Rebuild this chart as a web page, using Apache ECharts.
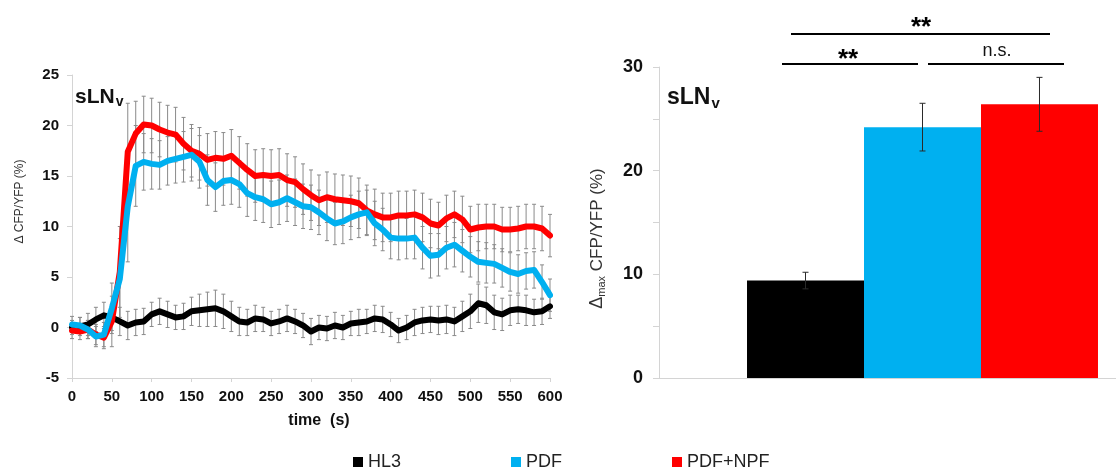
<!DOCTYPE html>
<html>
<head>
<meta charset="utf-8">
<script src="https://cdn.jsdelivr.net/npm/echarts@6/dist/echarts.min.js"></script>
<style>
  html, body { margin: 0; padding: 0; background: #fff; }
  #chart { width: 1116px; height: 470px; }
</style>
</head>
<body>
<div id="chart"></div>
<script>
// Time course (s), sampled every 10 s
const times = [0,10,20,30,40,50,60,70,80,90,100,110,120,130,140,150,160,170,180,190,200,210,220,230,240,250,260,270,280,290,300,310,320,330,340,350,360,370,380,390,400,410,420,430,440,450,460,470,480,490,500,510,520,530,540,550,560,570,580,590,600];

// Δ CFP/YFP (%) means and SEM for each condition
const hl3 = [0.0,0.1,0.3,0.8,1.2,1.0,0.6,0.2,0.5,0.6, 1.3,1.6,1.3,1.0,1.1,1.6,1.7,1.8,1.9,1.6, 1.1,0.6,0.5,0.9,0.8,0.4,0.6,0.9,0.6,0.2, -0.4,0.0,-0.1,0.2,0.0,0.4,0.5,0.6,0.9,0.8, 0.3,-0.3,0.0,0.5,0.7,0.8,0.7,0.8,0.6,1.1, 1.6,2.4,2.2,1.5,1.3,1.7,1.8,1.7,1.5,1.6,2.1];
const hl3Err = [0.7,0.9,1.1,1.2,1.3,1.3,1.4,1.4,1.3,1.3, 1.2,1.3,1.3,1.2,1.3,1.4,1.6,1.7,1.8,1.7, 1.5,1.4,1.3,1.3,1.2,1.2,1.2,1.3,1.2,1.2, 1.3,1.2,1.2,1.3,1.2,1.2,1.3,1.2,1.3,1.3, 1.2,1.2,1.2,1.3,1.3,1.3,1.4,1.4,1.4,1.5, 1.7,1.9,1.8,1.7,1.6,1.5,1.4,1.5,1.3,1.3,1.2];

const pdf = [0.3,0.2,-0.2,-0.9,-0.7,1.9,4.8,12.0,16.0,16.4, 16.2,16.1,16.5,16.7,16.9,17.1,16.4,14.6,13.9,14.5, 14.6,14.2,13.3,12.9,12.7,12.2,12.4,12.8,12.4,12.0, 11.9,11.4,10.8,10.3,10.5,10.9,11.2,11.4,10.3,9.7, 8.9,8.8,8.8,8.9,7.9,7.1,7.2,7.9,8.2,7.6, 7.0,6.5,6.4,6.3,5.9,5.5,5.3,5.6,5.7,4.5,3.2];
const pdfErr = [0.8,0.8,0.9,1.0,1.2,2.5,4.0,5.5,4.0,2.8, 2.5,2.4,2.4,2.4,2.5,2.6,2.6,2.5,2.4,2.4, 2.4,2.3,2.3,2.3,2.3,2.3,2.2,2.3,2.3,2.2, 2.2,2.2,2.2,2.1,2.2,2.2,2.3,2.2,2.2,2.1, 2.1,2.1,2.0,2.1,2.1,2.2,2.1,2.1,2.2,2.1, 2.0,2.0,2.0,1.9,1.9,1.9,1.9,1.8,1.8,1.7,1.6];

const pdfNpf = [-0.3,-0.4,-0.2,-0.7,-1.0,0.6,5.5,17.4,19.2,20.1, 20.0,19.6,19.3,19.1,18.2,17.5,17.2,16.6,16.8,16.7, 17.0,16.3,15.6,15.0,15.1,15.0,15.1,14.6,14.4,13.7, 13.1,12.6,12.9,12.7,12.6,12.5,12.3,11.6,11.2,10.9, 10.9,11.1,11.1,11.2,10.9,10.3,10.1,10.8,11.2,10.7, 9.7,9.9,10.0,10.0,9.7,9.7,9.8,10.0,10.0,9.8,9.1];
const pdfNpfErr = [0.8,0.8,0.9,1.0,1.1,2.5,4.5,4.8,3.2,2.8, 2.7,2.7,2.7,2.7,2.6,2.6,2.6,2.6,2.6,2.6, 2.6,2.6,2.6,2.6,2.6,2.6,2.6,2.6,2.5,2.5, 2.5,2.5,2.5,2.5,2.5,2.5,2.5,2.5,2.5,2.4, 2.4,2.4,2.4,2.4,2.4,2.4,2.3,2.3,2.3,2.3, 2.3,2.3,2.2,2.2,2.2,2.2,2.2,2.2,2.2,2.2,2.1];

// Maximal response Δmax CFP/YFP (%) per condition
const groups = ['HL3', 'PDF', 'PDF+NPF'];
const maxMeans = [9.4, 24.2, 26.4];
const maxErr = [0.8, 2.3, 2.6];

const colors = { 'HL3': '#000000', 'PDF': '#00b0f0', 'PDF+NPF': '#ff0000' };
const FONT = "'Liberation Sans', Arial, sans-serif";
const BAR_FRAC = 0.222;   // each bar's share of the category band

function pairs(xs, ys) { return xs.map((x, i) => [x, ys[i]]); }
function triples(xs, ys, es) { return xs.map((x, i) => [x, ys[i], es[i]]); }

// vertical error bar with caps, positioned through the axis scales
function errorBarItem(params, api) {
  const x = api.value(0), y = api.value(1), e = api.value(2);
  const hi = api.coord([x, y + e]);
  const lo = api.coord([x, y - e]);
  const cap = 2;
  const style = { stroke: '#8a8a8a', lineWidth: 1 };
  return {
    type: 'group',
    children: [
      { type: 'line', shape: { x1: hi[0], y1: hi[1], x2: lo[0], y2: lo[1] }, style },
      { type: 'line', shape: { x1: hi[0] - cap, y1: hi[1], x2: hi[0] + cap, y2: hi[1] }, style },
      { type: 'line', shape: { x1: lo[0] - cap, y1: lo[1], x2: lo[0] + cap, y2: lo[1] }, style }
    ]
  };
}

function barErrorItem(params, api) {
  const idx = api.value(3);
  const y = api.value(1), e = api.value(2);
  const band = api.size([1, 0])[0];
  const dx = (idx - 1) * band * BAR_FRAC;
  const hi = api.coord([0, y + e]);
  const lo = api.coord([0, y - e]);
  const x = hi[0] + dx;
  const cap = 3;
  const style = { stroke: '#2a2a2a', lineWidth: 1 };
  return {
    type: 'group',
    children: [
      { type: 'line', shape: { x1: x, y1: hi[1], x2: x, y2: lo[1] }, style },
      { type: 'line', shape: { x1: x - cap, y1: hi[1], x2: x + cap, y2: hi[1] }, style },
      { type: 'line', shape: { x1: x - cap, y1: lo[1], x2: x + cap, y2: lo[1] }, style }
    ]
  };
}

const lineSets = [
  { name: 'HL3', v: hl3, e: hl3Err, z: 3 },
  { name: 'PDF+NPF', v: pdfNpf, e: pdfNpfErr, z: 4 },
  { name: 'PDF', v: pdf, e: pdfErr, z: 5 }
];

const series = [];
lineSets.forEach(s => {
  series.push({
    type: 'custom', name: s.name + ' SEM', xAxisIndex: 0, yAxisIndex: 0,
    renderItem: errorBarItem, data: triples(times, s.v, s.e), z: 1, silent: true
  });
});
lineSets.forEach(s => {
  series.push({
    type: 'line', name: s.name, xAxisIndex: 0, yAxisIndex: 0,
    data: pairs(times, s.v), showSymbol: false, z: s.z,
    lineStyle: { width: 6, color: colors[s.name], join: 'round', cap: 'round' },
    itemStyle: { color: colors[s.name] }
  });
});
groups.forEach((g, i) => {
  series.push({
    type: 'bar', name: g, xAxisIndex: 1, yAxisIndex: 1,
    data: [maxMeans[i]], barWidth: (BAR_FRAC * 100) + '%', barGap: '0%',
    itemStyle: { color: colors[g] }
  });
});
series.push({
  type: 'custom', name: 'max SEM', xAxisIndex: 1, yAxisIndex: 1, z: 6, silent: true,
  renderItem: barErrorItem,
  data: groups.map((g, i) => [0, maxMeans[i], maxErr[i], i])
});

const axisGray = '#d4d4d4';
const chart = echarts.init(document.getElementById('chart'));
chart.setOption({
  animation: false,
  textStyle: { fontFamily: FONT },
  title: [
    {
      text: '{a|sLN}{b|v}', left: 70, top: 80,
      textStyle: { rich: {
        a: { fontFamily: FONT, fontSize: 21, fontWeight: 'bold', color: '#111' },
        b: { fontFamily: FONT, fontSize: 14, fontWeight: 'bold', color: '#111', padding: [10, 0, 0, 1] }
      } }
    },
    {
      text: '{a|sLN}{b|v}', left: 662, top: 80,
      textStyle: { rich: {
        a: { fontFamily: FONT, fontSize: 23, fontWeight: 'bold', color: '#111' },
        b: { fontFamily: FONT, fontSize: 15, fontWeight: 'bold', color: '#111', padding: [11, 0, 0, 1] }
      } }
    }
  ],
  legend: {
    data: groups.map(g => ({ name: g, icon: 'rect' })),
    left: 348, top: 448, itemWidth: 10, itemHeight: 10, itemGap: 110,
    textStyle: { fontFamily: FONT, fontSize: 18, color: '#222' }
  },
  grid: [
    { left: 72, top: 75, width: 478, height: 303, outerBoundsMode: 'none' },
    { left: 659, top: 67, width: 527, height: 311, outerBoundsMode: 'none' }
  ],
  xAxis: [
    {
      type: 'value', gridIndex: 0, min: 0, max: 600, interval: 50,
      name: 'time  (s)', nameLocation: 'middle', nameGap: 35,
      nameTextStyle: { fontFamily: FONT, fontSize: 16, fontWeight: 'bold', color: '#111', padding: [0, 0, 0, 16] },
      axisLine: { onZero: false, lineStyle: { color: axisGray } },
      axisTick: { length: 4, lineStyle: { color: axisGray } },
      axisLabel: { margin: 11, fontSize: 15, fontWeight: 'bold', color: '#111', fontFamily: FONT },
      splitLine: { show: false }
    },
    {
      type: 'category', gridIndex: 1, data: [''],
      axisLine: { lineStyle: { color: axisGray } },
      axisTick: { show: false }, axisLabel: { show: false }
    }
  ],
  yAxis: [
    {
      type: 'value', gridIndex: 0, min: -5, max: 25, interval: 5,
      name: 'Δ CFP/YFP (%)', nameLocation: 'middle', nameGap: 46, nameRotate: 90,
      nameTextStyle: { fontFamily: FONT, fontSize: 12, color: '#333', padding: [0, 0, 0, 50] },
      axisLine: { show: true, lineStyle: { color: axisGray } },
      axisTick: { show: true, length: 5, lineStyle: { color: axisGray } },
      axisLabel: { margin: 13, fontSize: 15, fontWeight: 'bold', color: '#111', fontFamily: FONT },
      splitLine: { show: false }
    },
    {
      type: 'value', gridIndex: 1, min: 0, max: 30, interval: 5,
      name: '{d|Δ}{s|max}{n| CFP/YFP (%)}', nameLocation: 'middle', nameGap: 52, nameRotate: 90,
      nameTextStyle: {
        padding: [0, 32, 0, 0],
        rich: {
          d: { fontFamily: FONT, fontSize: 18, color: '#333' },
          s: { fontFamily: FONT, fontSize: 11, color: '#333', padding: [8, 0, 0, 0] },
          n: { fontFamily: FONT, fontSize: 17, color: '#333' }
        }
      },
      axisLine: { show: true, lineStyle: { color: axisGray } },
      axisTick: { show: true, length: 6, lineStyle: { color: axisGray } },
      axisLabel: {
        margin: 16, fontSize: 18, fontWeight: 'bold', color: '#111', fontFamily: FONT,
        formatter: v => (v % 10 === 0 ? String(v) : '')
      },
      splitLine: { show: false }
    }
  ],
  // significance brackets above the bars
  graphic: [
    { type: 'line', shape: { x1: 791, y1: 34, x2: 1050, y2: 34 }, style: { stroke: '#000', lineWidth: 2 } },
    { type: 'line', shape: { x1: 782, y1: 64, x2: 918, y2: 64 }, style: { stroke: '#000', lineWidth: 2 } },
    { type: 'line', shape: { x1: 928, y1: 64, x2: 1064, y2: 64 }, style: { stroke: '#000', lineWidth: 2 } },
    { type: 'text', x: 921, y: 28, style: { text: '**', font: "bold 26px 'Liberation Sans', Arial", fill: '#000', textAlign: 'center', textVerticalAlign: 'middle' } },
    { type: 'text', x: 848, y: 60, style: { text: '**', font: "bold 26px 'Liberation Sans', Arial", fill: '#000', textAlign: 'center', textVerticalAlign: 'middle' } },
    { type: 'text', x: 997, y: 51, style: { text: 'n.s.', font: "18px 'Liberation Sans', Arial", fill: '#111', textAlign: 'center', textVerticalAlign: 'middle' } }
  ],
  series: series
});
</script>
</body>
</html>
